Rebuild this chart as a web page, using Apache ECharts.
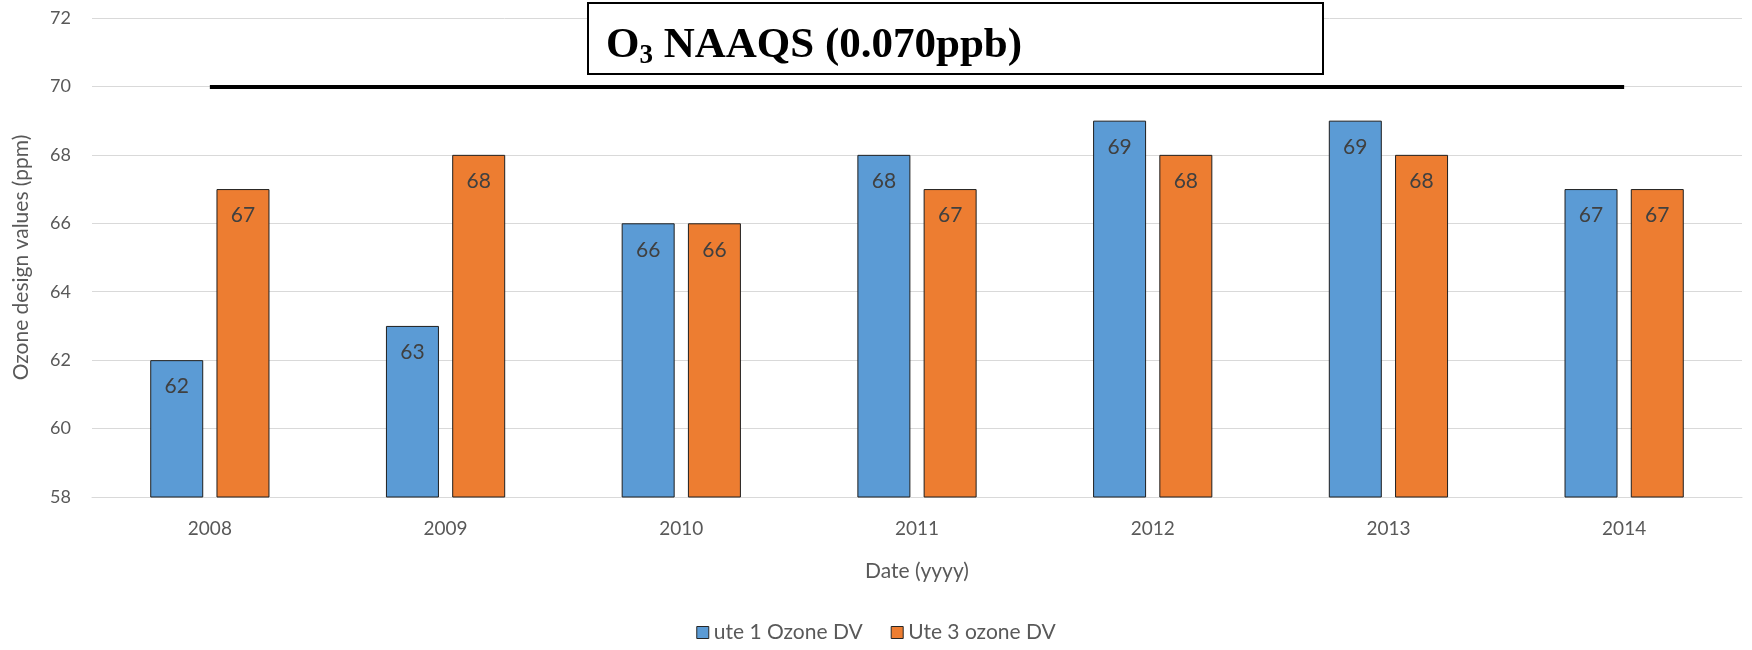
<!DOCTYPE html>
<html><head><meta charset="utf-8">
<script src="https://cdn.jsdelivr.net/npm/echarts@6/dist/echarts.min.js"></script>
<style>html,body{margin:0;padding:0;background:#fff}#c{width:1752px;height:650px}</style>
</head><body><div id="c"></div>
<script>
const categories = ['2008','2009','2010','2011','2012','2013','2014'];
const ute1 = [62, 63, 66, 68, 69, 69, 67];
const ute3 = [67, 68, 66, 67, 68, 68, 67];
const seriesNames = ['ute 1 Ozone DV', 'Ute 3 ozone DV'];
const naaqsValue = 70;
const yTicks = {min: 58, max: 72, interval: 2};

const font = 'Lato, "Open Sans", sans-serif';
const chart = echarts.init(document.getElementById('c'));
const labelStyle = {show: true, position: 'insideTop', distance: 16, color: '#404040', fontSize: 21, fontFamily: font};
chart.setOption({
  animation: false,
  grid: {left: 92, right: 10, top: 18, bottom: 153},
  legend: {
    bottom: 2, left: 'center', itemWidth: 12, itemHeight: 12, itemGap: 28,
    textStyle: {color: '#595959', fontSize: 21, fontFamily: font},
    data: seriesNames.map(n => ({name: n, icon: 'rect', itemStyle: {borderColor: '#262626', borderWidth: 1}}))
  },
  xAxis: {
    type: 'category', data: categories,
    name: 'Date (yyyy)', nameLocation: 'middle', nameGap: 64,
    nameTextStyle: {color: '#595959', fontSize: 21, fontFamily: font},
    axisLine: {lineStyle: {color: '#d9d9d9'}},
    axisTick: {show: false},
    axisLabel: {color: '#595959', fontSize: 19, fontFamily: font, margin: 22}
  },
  yAxis: {
    type: 'value', min: yTicks.min, max: yTicks.max, interval: yTicks.interval,
    name: 'Ozone design values (ppm)', nameLocation: 'middle', nameGap: 60,
    nameTextStyle: {color: '#595959', fontSize: 21, fontFamily: font},
    axisLabel: {color: '#595959', fontSize: 18, fontFamily: font, margin: 21},
    splitLine: {lineStyle: {color: '#d9d9d9', width: 1}},
    axisLine: {show: false}, axisTick: {show: false}
  },
  series: [
    {
      name: seriesNames[0], type: 'bar', data: ute1, barWidth: 53, barGap: '25%',
      itemStyle: {color: '#5B9BD5', borderColor: '#1f1f1f', borderWidth: 1},
      label: labelStyle
    },
    {
      name: seriesNames[1], type: 'bar', data: ute3, barWidth: 53,
      itemStyle: {color: '#ED7D31', borderColor: '#1f1f1f', borderWidth: 1},
      label: labelStyle
    },
    {
      name: 'NAAQS', type: 'line', data: [], silent: true,
      markLine: {
        silent: true, symbol: 'none', label: {show: false},
        lineStyle: {color: '#000', width: 4, type: 'solid'},
        data: [[{xAxis: categories[0], yAxis: naaqsValue}, {xAxis: categories[categories.length - 1], yAxis: naaqsValue}]]
      }
    }
  ],
  graphic: [
    {type: 'rect', shape: {x: 588, y: 3, width: 735, height: 71},
     style: {fill: '#fff', stroke: '#000', lineWidth: 2}, z: 100},
    {type: 'text', x: 606, y: 46, z: 101,
     style: {
       text: '{a|O}{s|3}{a| NAAQS (0.070ppb)}', verticalAlign: 'middle',
       rich: {
         a: {fontFamily: '"Liberation Serif", serif', fontWeight: 'bold', fontSize: 43, fill: '#000'},
         s: {fontFamily: '"Liberation Serif", serif', fontWeight: 'bold', fontSize: 27, fill: '#000', padding: [20, 0, 0, 0]}
       }
     }}
  ]
});
</script></body></html>
